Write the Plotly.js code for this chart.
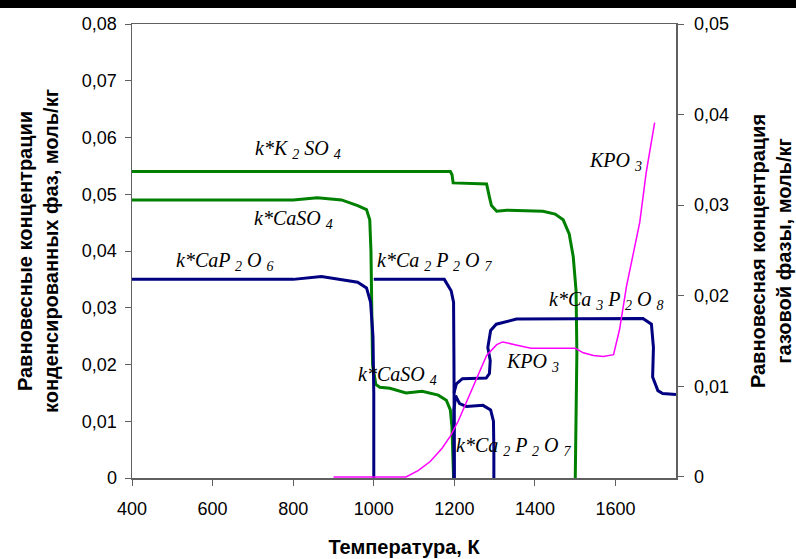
<!DOCTYPE html>
<html>
<head>
<meta charset="utf-8">
<script src="https://cdn.plot.ly/plotly-3.0.1.min.js"></script>
<style>html,body{margin:0;padding:0;background:#fff;}#chart{width:796px;height:559px;}</style>
</head>
<body>
<div id="chart"></div>
<script>
// Temperature (K) and equilibrium concentrations (mol/kg)
var k2so4T   = [400, 1190, 1194, 1197, 1280, 1283, 1287, 1292, 1305, 1330, 1420, 1450, 1470, 1485, 1495, 1502, 1504, 1500];
var k2so4V   = [0.054, 0.054, 0.0535, 0.0520, 0.0518, 0.0510, 0.0495, 0.0480, 0.0470, 0.0472, 0.0470, 0.0465, 0.0455, 0.0430, 0.0390, 0.0330, 0.0220, 0];

var caso4T   = [400, 800, 860, 920, 960, 982, 990, 993, 995, 997, 1005, 1015, 1040, 1080, 1120, 1160, 1180, 1190, 1194, 1197, 1198];
var caso4V   = [0.049, 0.049, 0.0494, 0.049, 0.048, 0.0473, 0.0455, 0.040, 0.030, 0.020, 0.0165, 0.0160, 0.0158, 0.0150, 0.0153, 0.0146, 0.0137, 0.0120, 0.0090, 0.0040, 0];

var cap2o6T  = [400, 800, 870, 920, 960, 982, 992, 998, 1000, 1000];
var cap2o6V  = [0.035, 0.035, 0.0355, 0.035, 0.0345, 0.0335, 0.031, 0.025, 0.015, 0];

var ca2p2o7aT = [1000, 1175, 1192, 1198, 1199, 1200];
var ca2p2o7aV = [0.035, 0.035, 0.033, 0.031, 0.020, 0];

var ca2p2o7bT = [1199, 1199, 1203, 1213, 1230, 1271, 1290, 1297, 1298, 1298];
var ca2p2o7bV = [0, 0.012, 0.0145, 0.0131, 0.0126, 0.0128, 0.0120, 0.0100, 0.005, 0];

var ca3p2o8T = [1199, 1205, 1220, 1279, 1287, 1289, 1283, 1290, 1304, 1354, 1668, 1689, 1694, 1692, 1705, 1717, 1750];
var ca3p2o8V = [0.0150, 0.0166, 0.0175, 0.0176, 0.0184, 0.0207, 0.0230, 0.0260, 0.0271, 0.0280, 0.0281, 0.0271, 0.0230, 0.0178, 0.0154, 0.0149, 0.0147];

var kpo3T = [900, 1000, 1080, 1110, 1140, 1170, 1190, 1210, 1230, 1255, 1280, 1305, 1320, 1350, 1390, 1500, 1520, 1545, 1570, 1595, 1610, 1627, 1645, 1660, 1676, 1697];
var kpo3V = [0, 0, 0, 0.0007, 0.0017, 0.0032, 0.0045, 0.0062, 0.0082, 0.0108, 0.0134, 0.0146, 0.0149, 0.0146, 0.0142, 0.0142, 0.0137, 0.0134, 0.0133, 0.0135, 0.0163, 0.0210, 0.0250, 0.0281, 0.0336, 0.0391];

var labelText = ['k*K <sub>2</sub> SO <sub>4</sub>', 'k*CaSO <sub>4</sub>', 'k*CaP <sub>2</sub> O <sub>6</sub>', 'k*Ca <sub>2</sub> P <sub>2</sub> O <sub>7</sub>', 'KPO <sub>3</sub>', 'k*Ca <sub>3</sub> P <sub>2</sub> O <sub>8</sub>', 'KPO <sub>3</sub>', 'k*CaSO <sub>4</sub>', 'k*Ca <sub>2</sub> P <sub>2</sub> O <sub>7</sub>'];
var labelT = [811, 801, 632, 1153, 1600, 1578, 1394, 1059, 1347];
var labelV = [0.0578, 0.0456, 0.0381, 0.0381, 0.0557, 0.0312, 0.0204, 0.0180, 0.0056];

var GREEN = '#008000', NAVY = '#000080', MAG = '#FF00FF';
function ln(x, y, c, w, ax) {
  return {x: x, y: y, type: 'scatter', mode: 'lines', yaxis: ax || 'y', line: {color: c, width: w}, hoverinfo: 'skip', showlegend: false};
}
var data = [
  ln(caso4T, caso4V, GREEN, 3),
  ln(k2so4T, k2so4V, GREEN, 3),
  ln(cap2o6T, cap2o6V, NAVY, 3),
  ln(ca2p2o7aT, ca2p2o7aV, NAVY, 3),
  ln(ca2p2o7bT, ca2p2o7bV, NAVY, 3),
  ln(ca3p2o8T, ca3p2o8V, NAVY, 3),
  ln(kpo3T, kpo3V, MAG, 1.5, 'y2')
];

var annotations = labelText.map(function (t, i) {
  return {x: labelT[i], y: labelV[i], xref: 'x', yref: 'y', text: '<i>' + t + '</i>', showarrow: false,
    font: {family: 'Liberation Serif, Times New Roman, serif', size: 20, color: '#000'}};
});

var axisLine = '#606060';
var tickFont = {family: 'Liberation Sans, Arial, sans-serif', size: 18, color: '#000'};
var titleFont = {family: 'Liberation Sans, Arial, sans-serif', size: 20, color: '#000', weight: 'bold'};

var layout = {
  width: 796, height: 559,
  margin: {l: 132, r: 120, t: 24, b: 81},
  paper_bgcolor: '#fff', plot_bgcolor: '#fff',
  separators: ', ',
  showlegend: false,
  xaxis: {range: [400, 1750], dtick: 200, tick0: 400, showgrid: false, zeroline: false,
    showline: true, mirror: true, linecolor: axisLine, linewidth: 1.5, layer: 'below traces',
    ticks: 'outside', ticklen: 6, tickcolor: axisLine, tickfont: tickFont, ticklabelstandoff: 8,
    title: {text: 'Температура, К', font: titleFont, standoff: 22}},
  yaxis: {range: [0, 0.08], dtick: 0.01, showgrid: false, zeroline: false,
    showline: true, linecolor: axisLine, linewidth: 1.5, layer: 'below traces',
    ticks: 'outside', ticklen: 6, tickcolor: axisLine, tickfont: tickFont, ticklabelstandoff: 4,
    title: {text: 'Равновесные концентрации<br>конденсированных фаз, моль/кг', font: titleFont, standoff: 18}},
  yaxis2: {range: [-0.00012, 0.05], tick0: 0, dtick: 0.01, overlaying: 'y', side: 'right', showgrid: false, zeroline: false,
    showline: true, linecolor: axisLine, linewidth: 1.5, layer: 'below traces',
    ticks: 'outside', ticklen: 6, tickcolor: axisLine, tickfont: tickFont, ticklabelstandoff: 7,
    title: {text: 'Равновесная концентрация<br>газовой фазы, моль/кг', font: titleFont, standoff: 23}},
  annotations: annotations,
  shapes: [{type: 'rect', xref: 'paper', yref: 'paper', x0: -0.3, x1: 1.3, y0: 1 + 16 / 454, y1: 1.2,
    fillcolor: '#000', line: {width: 0}, layer: 'above'}]
};

Plotly.newPlot('chart', data, layout, {staticPlot: true, displayModeBar: false});
</script>
</body>
</html>
